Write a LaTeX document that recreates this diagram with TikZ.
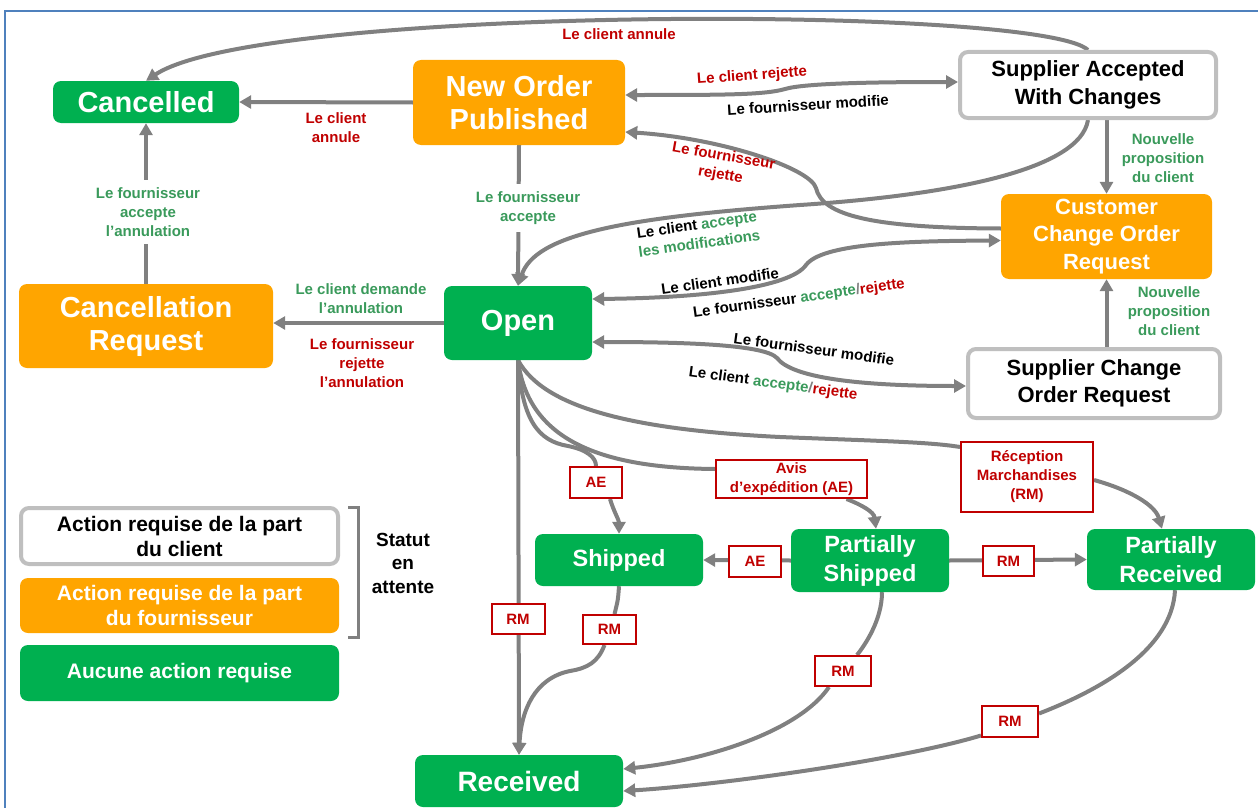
\documentclass[tikz,border=0pt]{standalone}
\usepackage{fontspec}
\setmainfont{Liberation Sans}
\usetikzlibrary{arrows.meta}
\definecolor{ngreen}{HTML}{00B050}
\definecolor{norange}{HTML}{FFA500}
\definecolor{lgray}{HTML}{808080}
\definecolor{bgray}{HTML}{BFBFBF}
\definecolor{tred}{HTML}{C00000}
\definecolor{tgreen}{HTML}{3A9A5B}
\definecolor{frameblue}{HTML}{4F81BD}
\newcommand{\myfs}[2]{\fontsize{#1}{#2}\selectfont}
\pgfdeclarelayer{bg}
\pgfsetlayers{bg,main}
\tikzset{
 stbase/.style={rounded corners=8pt, align=center, inner sep=0pt, text=white},
 stgreen/.style={stbase, fill=ngreen},
 storange/.style={stbase, fill=norange},
 stwhite/.style={stbase, fill=white, draw=bgray, line width=4pt, text=black},
 rlab/.style={draw=tred, line width=2pt, fill=white, text=tred, font=\myfs{15}{19}\bfseries, align=center, inner sep=0pt},
 conn/.style={draw=lgray, line width=4pt},
 arr/.style={conn, -{Triangle[length=12pt,width=13pt]}},
 darr/.style={conn, {Triangle[length=12pt,width=13pt]}-{Triangle[length=12pt,width=13pt]}},
 lbl/.style={font=\myfs{15}{19}\bfseries, align=center, inner sep=1pt},
 big/.style={font=\myfs{29}{33}\bfseries},
 mid/.style={font=\myfs{22}{27.5}\bfseries},
 sml/.style={font=\myfs{23.5}{29}\bfseries},
 leg/.style={font=\myfs{21}{25}\bfseries},
}
\begin{document}
\begin{tikzpicture}[x=1pt,y=-1pt]
\useasboundingbox (0,0) rectangle (1258,808);
% ---------- nodes ----------
\node[stgreen, big, minimum width=186pt, minimum height=42pt] (canc) at (146,102) {Cancelled};
\node[storange, big, minimum width=212pt, minimum height=85pt] (nop) at (519,102.5) {New Order\\Published};
\node[stwhite, mid, minimum width=256pt, minimum height=66pt] (sawc) at (1088,85) {Supplier Accepted\\With Changes};
\node[storange, mid, minimum width=211pt, minimum height=85pt] (ccor) at (1106.5,236.5) {Customer\\Change Order\\Request};
\node[storange, big, minimum width=254pt, minimum height=84pt] (creq) at (146,326) {Cancellation\\Request};
\node[stgreen, big, minimum width=148pt, minimum height=74pt] (open) at (518,323) {Open};
\node[stwhite, mid, minimum width=252pt, minimum height=69pt] (scor) at (1094,383.5) {Supplier Change\\Order Request};
\node[stgreen, sml, minimum width=168pt, minimum height=52pt] (ship) at (619,560) {Shipped};
\node[stgreen, sml, minimum width=158pt, minimum height=63pt] (pship) at (870,560.5) {Partially\\Shipped};
\node[stgreen, sml, minimum width=168pt, minimum height=61pt] (prec) at (1171,559.5) {Partially\\Received};
\node[stgreen, font=\myfs{28}{33}\bfseries, minimum width=208pt, minimum height=52pt] (rec) at (519,781) {Received};
% legend
\node[stwhite, leg, minimum width=317pt, minimum height=56pt] (leg1) at (179.5,536) {Action requise de la part\\du client};
\node[storange, leg, minimum width=319pt, minimum height=55pt] (leg2) at (179.5,605.5) {Action requise de la part\\du fournisseur};
\node[stgreen, leg, minimum width=319pt, minimum height=56pt] (leg3) at (179.5,673) {Aucune action requise};
\coordinate (br1) at (348,507);
\coordinate (br2) at (358,507);
\coordinate (br3) at (358,637);
\coordinate (br4) at (348,637);
\draw[lgray, line width=3pt] (br1) -- (br2) -- (br3) -- (br4);
\node[font=\myfs{19}{23.5}\bfseries, align=center] (statut) at (403,563) {Statut\\en\\attente};
% red label boxes
\node[rlab, minimum width=52pt, minimum height=31pt] (ae1) at (596,482.5) {AE};
\node[rlab, minimum width=151pt, minimum height=38pt] (avis) at (791.5,479) {Avis\\d’expédition (AE)};
\node[rlab, minimum width=132pt, minimum height=70pt] (recm) at (1027,477) {Réception\\Marchandises\\(RM)};
\node[rlab, minimum width=52pt, minimum height=31pt] (ae2) at (755,561.5) {AE};
\node[rlab, minimum width=51pt, minimum height=30pt] (rm1) at (1008.5,561) {RM};
\node[rlab, minimum width=53pt, minimum height=30pt] (rm2) at (518,619) {RM};
\node[rlab, minimum width=53pt, minimum height=29pt] (rm3) at (609.5,629.5) {RM};
\node[rlab, minimum width=56pt, minimum height=30pt] (rm4) at (843,671) {RM};
\node[rlab, minimum width=56pt, minimum height=31pt] (rm5) at (1010,721.5) {RM};
% ---------- text labels ----------
\node[lbl, text=tred] (l1) at (619,34) {Le client annule};
\node[lbl, text=tred] (l2) at (336,128) {Le client\\annule};
\node[lbl, text=tgreen, fill=white, inner ysep=8pt] (l3) at (528,208) {Le fournisseur\\accepte};
\node[lbl, text=tgreen, fill=white, inner ysep=7pt] (l4) at (148,212) {Le fournisseur\\accepte\\l’annulation};
\node[lbl, text=tgreen] (l5) at (361,299) {Le client demande\\l’annulation};
\node[lbl, text=tred] (l6) at (362,363) {Le fournisseur\\rejette\\l’annulation};
\node[lbl, text=tgreen] (l7) at (1163,158) {Nouvelle\\proposition\\du client};
\node[lbl, text=tgreen] (l8) at (1169,311) {Nouvelle\\proposition\\du client};
\node[lbl, text=tred, rotate=4] (l9) at (752,76) {Le client rejette};
\node[lbl, rotate=3.5] (l10) at (808,105) {Le fournisseur modifie};
\node[lbl, text=tred, rotate=-10] (l11) at (722,166) {Le fournisseur\\rejette};
\node[lbl, rotate=8] (l12) at (698,234) {Le client \textcolor{tgreen}{accepte}\\\textcolor{tgreen}{les modifications}};
\node[lbl, rotate=8] (l13) at (720,281) {Le client modifie};
\node[lbl, rotate=8] (l14) at (799,299) {Le fournisseur \textcolor{tgreen}{accepte}\textcolor{lgray}{/}\textcolor{tred}{rejette}};
\node[lbl, rotate=-8] (l15) at (814,349) {Le fournisseur modifie};
\node[lbl, rotate=-8] (l16) at (773,384) {Le client \textcolor{tgreen}{accepte}\textcolor{lgray}{/}\textcolor{tred}{rejette}};
% ---------- connectors ----------
\begin{pgfonlayer}{bg}
\coordinate (f0) at (5,808);
\coordinate (f1) at (5,11);
\coordinate (f2) at (1258,11);
\draw[frameblue, line width=2pt] (f0) -- (f1) -- (f2);
\draw[arr] (nop.west) -- (canc.east);
\draw[arr] (sawc.north) .. controls (1040,5) and (260,5) .. (canc.north);
\draw[darr] ([yshift=7.5pt]nop.east) .. controls (720,95) and (765,95) .. (785,89) .. controls (805,83) and (880,82) .. ([yshift=3pt]sawc.west);
\draw[arr] ([yshift=8pt]ccor.west) .. controls (870,228) and (822,215) .. (816,188) .. controls (810,168) and (720,138) .. ([yshift=-29.5pt]nop.east);
\draw[arr] (sawc.south) .. controls (1080,170) and (950,195) .. (800,205) .. controls (620,218) and (535,235) .. (open.north);
\draw[arr] (nop.south) -- (open.north);
\draw[darr] ([yshift=24pt]open.east) .. controls (700,298) and (790,288) .. (806,265) .. controls (822,244) and (900,241) .. ([yshift=-4pt]ccor.west);
\draw[darr] ([yshift=-19pt]open.east) .. controls (690,342) and (765,345) .. (777,358) .. controls (792,378) and (860,386) .. ([yshift=-2.5pt]scor.west);
\draw[arr] (sawc.south -| ccor.north) -- (ccor.north);
\draw[arr] (scor.north -| ccor.south) -- (ccor.south);
\draw[arr] (open.west) -- (open.west -| creq.east);
\draw[arr] (creq.north) -- (canc.south);
\draw[arr] (open.south) -- (rec.north);
\draw[conn] (open.south) .. controls (522,420) and (538,441) .. (568,446) .. controls (588,450) and (596,458) .. (ae1.north);
\draw[arr] ([xshift=14pt]ae1.south) .. controls (614,512) and (619,520) .. (ship.north);
\draw[conn] (open.south) .. controls (528,440) and (600,468) .. ([yshift=10pt]avis.west);
\draw[arr] ([xshift=55pt]avis.south) .. controls (862,505) and (874,512) .. ([xshift=6pt]pship.north);
\draw[conn] (open.south) .. controls (545,410) and (640,430) .. (780,437) .. controls (880,441) and (930,442) .. ([yshift=30pt]recm.west);
\draw[arr] ([yshift=-3pt]recm.east) .. controls (1130,490) and (1155,505) .. ([xshift=-9pt]prec.north);
\draw[arr] (pship.west) -- (ship.east);
\draw[arr] (pship.east) -- (prec.west);
\draw[conn] (ship.south) .. controls (618,600) .. ([xshift=5pt]rm3.north);
\draw[arr] ([xshift=-5pt]rm3.south) .. controls (598,662) and (588,668) .. (570,671) .. controls (535,678) and (521,710) .. (rec.north);
\draw[conn] ([xshift=12pt]pship.south) .. controls (882,620) and (865,645) .. ([xshift=14pt]rm4.north);
\draw[arr] ([xshift=-14pt]rm4.south) .. controls (800,730) and (710,760) .. ([yshift=12pt]rec.east);
\draw[conn] ([xshift=4pt]prec.south) .. controls (1172,650) and (1100,690) .. ([yshift=8pt]rm5.east);
\draw[arr] ([yshift=-14pt]rm5.west) .. controls (900,760) and (720,785) .. ([yshift=-10pt]rec.east);
\end{pgfonlayer}
\end{tikzpicture}
\end{document}
